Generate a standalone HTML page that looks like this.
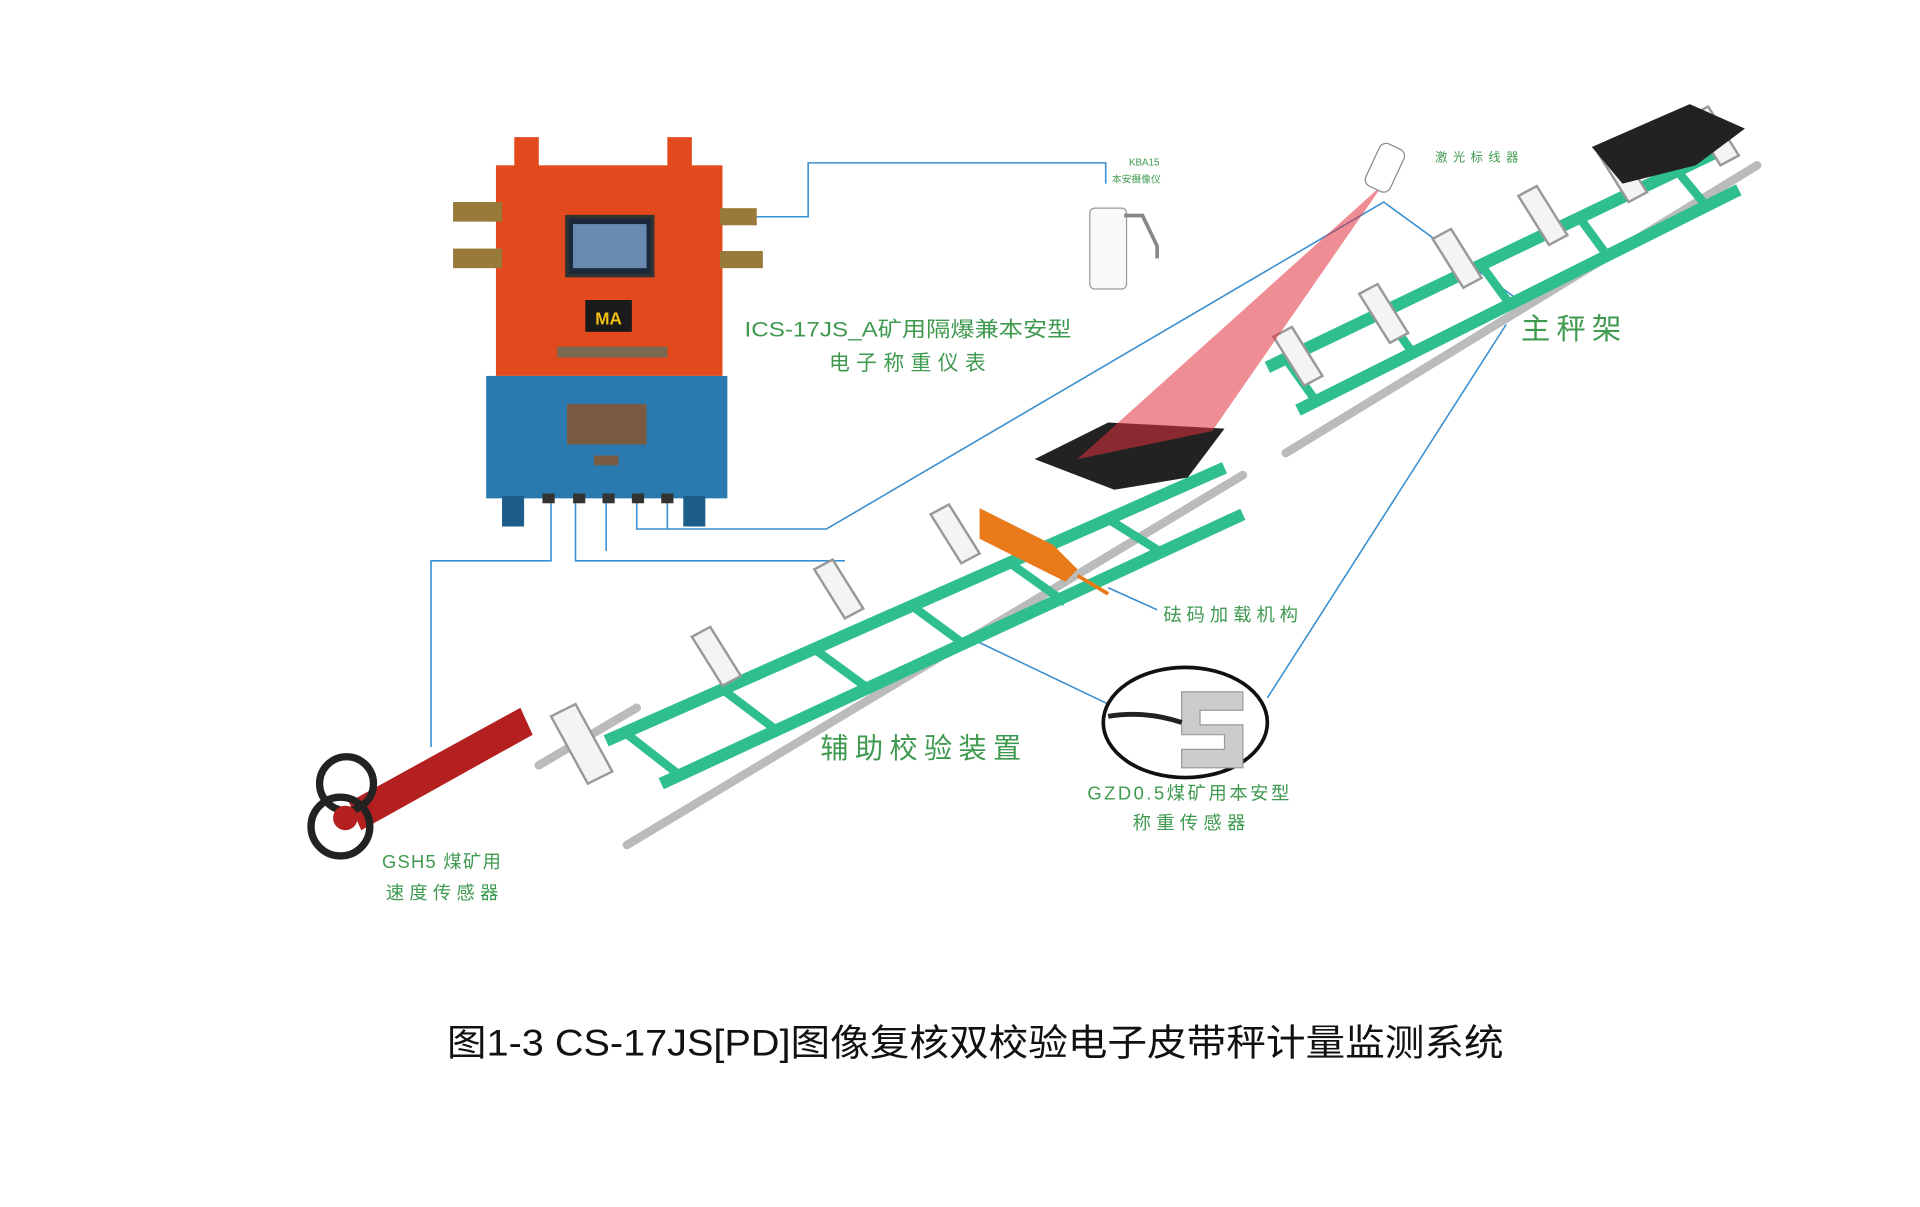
<!DOCTYPE html>
<html><head><meta charset="utf-8"><style>
html,body{margin:0;padding:0;background:#fff;}
svg{display:block;}
text{font-family:"Liberation Sans","Noto Sans CJK SC",sans-serif;}
</style></head><body>
<svg width="1920" height="1207" viewBox="0 0 1920 1207" xmlns="http://www.w3.org/2000/svg">
<g transform="scale(1.2245)">
<g fill="none" stroke="#3a8fd0" stroke-width="1.3">
<polyline points="605,177 660,177 660,133 903,133 903,150"/>
<polyline points="520,410 520,432 675,432 1130,165 1240,245"/>
<polyline points="450,410 450,458 352,458 352,610"/>
<polyline points="470,410 470,458 690,458"/>
<polyline points="495,410 495,450"/>
<polyline points="545,410 545,432"/>
<polyline points="790,520 905,575"/>
<polyline points="1035,570 1230,265"/>
<polyline points="905,480 945,498"/>
</g>
<g stroke="#bbb" stroke-width="7" fill="none" stroke-linecap="round">
<line x1="512" y1="690" x2="1015" y2="388"/>
<line x1="1050" y1="370" x2="1435" y2="135"/>
<line x1="440" y1="625" x2="520" y2="578"/>
</g>
<g stroke="#2fbf8f" stroke-width="10" fill="none">
<line x1="495" y1="605" x2="1000" y2="382"/>
<line x1="540" y1="640" x2="1015" y2="420"/>
<line x1="1035" y1="300" x2="1400" y2="125"/>
<line x1="1060" y1="335" x2="1420" y2="155"/>
</g>
<g stroke="#2fbf8f" stroke-width="7">
<line x1="510" y1="598" x2="555" y2="633"/><line x1="590" y1="563" x2="635" y2="597"/>
<line x1="665" y1="530" x2="710" y2="563"/><line x1="745" y1="495" x2="790" y2="528"/>
<line x1="825" y1="460" x2="870" y2="492"/><line x1="905" y1="424" x2="950" y2="452"/>
<line x1="1050" y1="293" x2="1075" y2="328"/><line x1="1130" y1="255" x2="1155" y2="290"/>
<line x1="1210" y1="217" x2="1235" y2="251"/><line x1="1290" y1="178" x2="1315" y2="212"/>
<line x1="1370" y1="140" x2="1395" y2="170"/>
</g>
<g stroke="#999" stroke-width="2" fill="#f4f4f4">
<path d="M450,585 l20,-10 l30,55 l-20,10z"/><path d="M565,520 l15,-8 l25,40 l-15,8z"/>
<path d="M665,465 l15,-8 l25,40 l-15,8z"/><path d="M760,420 l15,-8 l25,40 l-15,8z"/>
<path d="M1040,275 l15,-8 l25,40 l-15,8z"/><path d="M1110,240 l15,-8 l25,40 l-15,8z"/>
<path d="M1170,195 l15,-8 l25,40 l-15,8z"/><path d="M1240,160 l15,-8 l25,40 l-15,8z"/>
<path d="M1305,125 l15,-8 l25,40 l-15,8z"/><path d="M1380,95 l15,-8 l25,40 l-15,8z"/>
</g>
<path d="M845,375 l60,-30 l95,5 l-30,40 l-60,10 z" fill="#222"/>
<path d="M1300,120 l80,-35 l45,20 l-40,30 l-60,15 z" fill="#222"/>
<path d="M1130,150 L880,375 L990,352 Z" fill="#e0303a" opacity="0.55"/>
<rect x="1120" y="118" width="22" height="38" rx="6" fill="#fff" stroke="#888" transform="rotate(25 1131 137)"/>
<path d="M800,415 l60,30 l20,20 l-10,10 l-70,-35 z" fill="#e87a1a"/>
<line x1="880" y1="470" x2="905" y2="485" stroke="#e87a1a" stroke-width="3"/>
<rect x="890" y="170" width="30" height="66" rx="4" fill="#fafafa" stroke="#999"/>
<path d="M918,176 l15,0 l12,25 l0,10" fill="none" stroke="#888" stroke-width="3"/>
<rect x="420" y="112" width="20" height="25" fill="#e24a1d"/><rect x="545" y="112" width="20" height="25" fill="#e24a1d"/>
<rect x="405" y="135" width="185" height="172" fill="#e24a1d"/>
<rect x="370" y="165" width="40" height="16" fill="#9a7a3a"/><rect x="370" y="203" width="40" height="16" fill="#9a7a3a"/>
<rect x="588" y="170" width="30" height="14" fill="#9a7a3a"/><rect x="588" y="205" width="35" height="14" fill="#9a7a3a"/>
<rect x="463" y="177" width="70" height="48" fill="#1a2a3a" stroke="#333" stroke-width="3"/>
<rect x="468" y="183" width="60" height="36" fill="#6a8ab0"/>
<rect x="478" y="245" width="38" height="26" fill="#1a1a1a"/>
<text x="497" y="265" font-size="14" font-weight="bold" fill="#f2c010" text-anchor="middle">MA</text>
<rect x="455" y="283" width="90" height="9" fill="#7a6a50"/>
<rect x="397" y="307" width="197" height="100" fill="#2a7ab0"/>
<path d="M410,405 h18 v25 h-18z M558,405 h18 v25 h-18z" fill="#1d5d8a"/>
<rect x="463" y="330" width="65" height="33" fill="#7a5a40"/>
<rect x="485" y="372" width="20" height="8" fill="#7a5a40"/>
<g fill="#333"><rect x="443" y="403" width="10" height="8"/><rect x="468" y="403" width="10" height="8"/><rect x="492" y="403" width="10" height="8"/><rect x="516" y="403" width="10" height="8"/><rect x="540" y="403" width="10" height="8"/></g>
<path d="M285,655 L425,578 L435,600 L295,678 Z" fill="#b42020"/>
<circle cx="283" cy="640" r="22" fill="none" stroke="#222" stroke-width="6"/>
<circle cx="278" cy="675" r="24" fill="none" stroke="#222" stroke-width="6"/>
<circle cx="282" cy="668" r="10" fill="#b42020"/>
<ellipse cx="968" cy="590" rx="67" ry="45" fill="#fff" stroke="#111" stroke-width="3"/>
<path d="M965,565 h50 v15 h-35 v12 h35 v35 h-50 v-15 h35 v-12 h-35z" fill="#ccc" stroke="#999"/>
<path d="M905,585 q30,-5 60,5" fill="none" stroke="#222" stroke-width="4"/>
<g fill="#3f9a50">
<text x="608" y="275" font-size="17" textLength="267" lengthAdjust="spacingAndGlyphs">ICS-17JS_A矿用隔爆兼本安型</text>
<text x="677" y="302" font-size="17" textLength="128">电子称重仪表</text>
<text x="1242" y="277" font-size="24" textLength="82">主秤架</text>
<text x="670" y="619" font-size="23" textLength="164">辅助校验装置</text>
<text x="950" y="507" font-size="15" textLength="110">砝码加载机构</text>
<text x="888" y="653" font-size="15" textLength="165">GZD0.5煤矿用本安型</text>
<text x="925" y="677" font-size="15" textLength="92">称重传感器</text>
<text x="312" y="709" font-size="15" textLength="97">GSH5 煤矿用</text>
<text x="315" y="734" font-size="15" textLength="92">速度传感器</text>
<text x="1172" y="132" font-size="10" textLength="68">激光标线器</text>
<text x="922" y="135" font-size="8">KBA15</text>
<text x="908" y="149" font-size="8">本安摄像仪</text>
</g>
<text x="365" y="862" font-size="30" fill="#111" textLength="863" lengthAdjust="spacingAndGlyphs">图1-3 CS-17JS[PD]图像复核双校验电子皮带秤计量监测系统</text>
</g>
</svg>
</body></html>
